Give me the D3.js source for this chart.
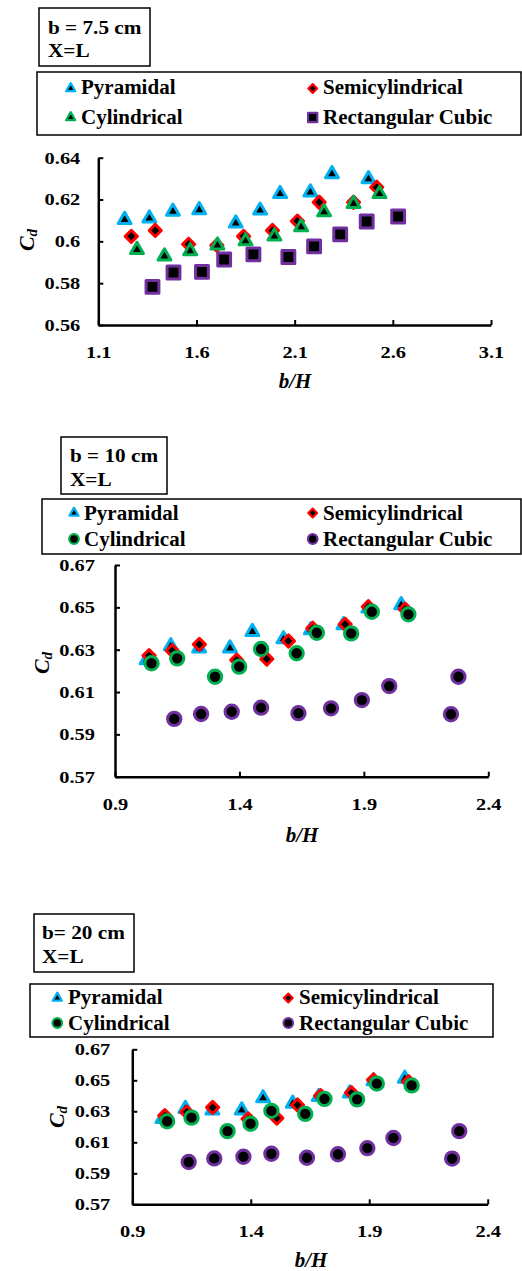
<!DOCTYPE html>
<html><head><meta charset="utf-8">
<script src="https://cdn.jsdelivr.net/npm/d3@7"></script>
<style>body{margin:0;background:#fff} svg{display:block}
svg text{font-family:"Liberation Serif","Times New Roman",Times,serif !important;font-weight:bold}</style>
</head><body><svg id="c" width="522" height="1271"></svg>
<script>
// ---------- DATA ----------
// Panel 1 : b = 7.5 cm
const p1PyrX  = [1.234,1.36,1.48,1.614,1.80,1.924,2.026,2.18,2.29,2.476];
const p1PyrY  = [0.6103,0.611,0.6143,0.615,0.6087,0.6148,0.6227,0.6235,0.6322,0.6298];
const p1SemiX = [1.268,1.39,1.56,1.704,1.84,1.987,2.114,2.225,2.40,2.518];
const p1SemiY = [0.6024,0.6052,0.5986,0.5981,0.6024,0.6052,0.6097,0.6187,0.6187,0.6259];
const p1CylX  = [1.297,1.437,1.568,1.707,1.85,1.997,2.133,2.25,2.40,2.532];
const p1CylY  = [0.596,0.5929,0.5954,0.5981,0.6001,0.6024,0.6068,0.614,0.618,0.6227];
const p1RectX = [1.376,1.483,1.628,1.741,1.89,2.068,2.199,2.332,2.467,2.627];
const p1RectY = [0.5782,0.5851,0.5854,0.5913,0.5938,0.5925,0.5976,0.6033,0.6095,0.6119];
// Panels 2 and 3 : b = 10 cm and b = 20 cm (same plotted values)
const p2PyrX  = [1.027,1.124,1.238,1.362,1.452,1.577,1.687,1.818,1.918,2.05];
const p2PyrY  = [0.6251,0.6317,0.6307,0.6307,0.6385,0.635,0.6393,0.6417,0.6495,0.6511];
const p2SemiX = [1.037,1.13,1.239,1.389,1.51,1.597,1.695,1.825,1.918,2.066];
const p2SemiY = [0.6272,0.6295,0.6325,0.6251,0.6256,0.6341,0.6401,0.642,0.6503,0.6491];
const p2CylX  = [1.047,1.15,1.302,1.399,1.487,1.63,1.711,1.849,1.932,2.079];
const p2CylY  = [0.6236,0.6259,0.6172,0.622,0.6303,0.6283,0.638,0.6377,0.6479,0.6467];
const p2RectX = [1.138,1.246,1.369,1.487,1.637,1.768,1.892,2.002,2.25,2.28];
const p2RectY = [0.5973,0.5996,0.6007,0.6026,0.6000,0.6023,0.6062,0.6128,0.5995,0.6172];

const seriesNames = ["Pyramidal","Semicylindrical","Cylindrical","Rectangular Cubic"];
const p1XTicks = [1.1,1.6,2.1,2.6,3.1];
const p1XTickLabels = ["1.1","1.6","2.1","2.6","3.1"];
const p1YTicks = [0.56,0.58,0.60,0.62,0.64];
const p1YTickLabels = ["0.56","0.58","0.6","0.62","0.64"];
const p2XTicks = [0.9,1.4,1.9,2.4];
const p2XTickLabels = ["0.9","1.4","1.9","2.4"];
const p2YTicks = [0.57,0.59,0.61,0.63,0.65,0.67];
const p2YTickLabels = ["0.57","0.59","0.61","0.63","0.65","0.67"];

// ---------- STYLE / LAYOUT ----------
const COL = ["#00B0F0","#FF0000","#00B050","#7030A0"];
const svg = d3.select("#c");

function symPath(shape, area){
  const t = shape==="triangle" ? d3.symbolTriangle : (shape==="circle" ? d3.symbolCircle : d3.symbolSquare);
  return d3.symbol().type(t).size(area)();
}
const AREA = {triangle:72, diamond:74, square:165, circle:140};
function marker(g, shape, color, s, cx, cy){
  g.append("path").attr("d", symPath(shape, AREA[shape]*s*s))
    .attr("transform", `translate(${cx},${cy})` + (shape==="diamond" ? " rotate(45)" : ""))
    .attr("fill","#000").attr("stroke",color).attr("stroke-width",3*s)
    .attr("stroke-linejoin","round");
}
function stext(g, x, y, str, size, sx, anchor){
  return g.append("text").attr("transform",`translate(${x},${y}) scale(${sx},1)`)
    .attr("text-anchor",anchor||"start")
    .attr("font-size",size).attr("fill","#000").text(str);
}

const panels = [
  { title:["b = 7.5 cm","X=L"], tbox:[39,8,150,66], tx:48, tb:[34,57],
    lbox:[37,72,521,135], mx:[70.7,312.7], lx:[81,323], my:[88.5,117.5], lb:[94,124],
    xr:[98.3,491], yr:[325,157.7], xd:[1.1,3.1], yd:[0.56,0.64],
    xt:p1XTicks, xtl:p1XTickLabels, yt:p1YTicks, ytl:p1YTickLabels, ypad:18,
    cd:[27,240], bh:[295,388],
    shapes:["triangle","diamond","triangle","square"],
    data:[[p1PyrX,p1PyrY],[p1SemiX,p1SemiY],[p1CylX,p1CylY],[p1RectX,p1RectY]] },
  { title:["b = 10 cm","X=L"], tbox:[61,437,167,494], tx:70, tb:[462,486],
    lbox:[42,499,521,554], mx:[74,312.7], lx:[84,323], my:[513,539], lb:[520,546],
    xr:[115,488.3], yr:[776.7,565], xd:[0.9,2.4], yd:[0.57,0.67],
    xt:p2XTicks, xtl:p2XTickLabels, yt:p2YTicks, ytl:p2YTickLabels, ypad:20,
    cd:[42,663], bh:[302,842],
    shapes:["triangle","diamond","circle","circle"],
    data:[[p2PyrX,p2PyrY],[p2SemiX,p2SemiY],[p2CylX,p2CylY],[p2RectX,p2RectY]] },
  { title:["b= 20 cm","X=L"], tbox:[34,914,134,972], tx:42, tb:[939,963],
    lbox:[30,984,493,1037], mx:[57.3,288.3], lx:[68,299], my:[998,1023], lb:[1004,1030],
    xr:[132.3,487.7], yr:[1204.3,1049.3], xd:[0.9,2.4], yd:[0.57,0.67],
    xt:p2XTicks, xtl:p2XTickLabels, yt:p2YTicks, ytl:p2YTickLabels, ypad:22,
    cd:[57,1117], bh:[311,1267],
    shapes:["triangle","diamond","circle","circle"],
    data:[[p2PyrX,p2PyrY],[p2SemiX,p2SemiY],[p2CylX,p2CylY],[p2RectX,p2RectY]] }
];

panels.forEach(p => {
  const g = svg.append("g");
  // title box
  g.append("rect").attr("x",p.tbox[0]).attr("y",p.tbox[1])
    .attr("width",p.tbox[2]-p.tbox[0]).attr("height",p.tbox[3]-p.tbox[1])
    .attr("fill","#fff").attr("stroke","#000").attr("stroke-width",1.5);
  p.title.forEach((t,i)=> stext(g, p.tx, p.tb[i], t, 18, 1.18));
  // legend
  g.append("rect").attr("x",p.lbox[0]).attr("y",p.lbox[1])
    .attr("width",p.lbox[2]-p.lbox[0]).attr("height",p.lbox[3]-p.lbox[1])
    .attr("fill","#fff").attr("stroke","#000").attr("stroke-width",1.5);
  seriesNames.forEach((n,i)=>{
    const col = i%2, row = Math.floor(i/2);
    marker(g, p.shapes[i], COL[i], 0.72, p.mx[col], p.my[row]);
    stext(g, p.lx[col], p.lb[row], n, 20, 1.05);
  });
  // scales
  const x = d3.scaleLinear().domain(p.xd).range(p.xr);
  const y = d3.scaleLinear().domain(p.yd).range(p.yr);
  const SX = 1.2;
  const gx = g.append("g").attr("transform",`translate(0,${p.yr[0]})`)
    .call(d3.axisBottom(x).tickValues(p.xt).tickFormat((d,i)=>p.xtl[i])
      .tickSizeInner(-5).tickSizeOuter(0).tickPadding(21));
  const gy = g.append("g").attr("transform",`translate(${p.xr[0]},0)`)
    .call(d3.axisLeft(y).tickValues(p.yt).tickFormat((d,i)=>p.ytl[i])
      .tickSizeInner(-5).tickSizeOuter(0).tickPadding(p.ypad));
  [gx,gy].forEach(a=>{
    a.attr("font-family",null);
    a.select(".domain").attr("stroke","#000").attr("stroke-width",2.5);
    a.selectAll(".tick line").attr("stroke","#000").attr("stroke-width",2);
    a.selectAll(".tick text")
      .attr("font-size",17).attr("fill","#000").attr("transform",`scale(${SX},1)`);
  });
  gy.selectAll(".tick text").attr("x", -p.ypad/SX);
  // points (series order: Pyramidal, Semi, Cyl, Rect)
  p.data.forEach((s,i)=>{
    const pts = s[0].map((v,j)=>[v, s[1][j]]);
    const sg = g.append("g");
    pts.forEach(d => marker(sg, p.shapes[i], COL[i], 1, x(d[0]), y(d[1])));
  });
  // axis titles
  const cd = g.append("text").attr("transform",`translate(${p.cd[0]+7},${p.cd[1]}) rotate(-90)`)
    .attr("text-anchor","middle").attr("font-style","italic").attr("font-size",22);
  cd.append("tspan").text("C");
  cd.append("tspan").attr("font-size",15).attr("dy",3).text("d");
  stext(g, p.bh[0], p.bh[1], "b/H", 20, 1.05, "middle").attr("font-style","italic");
});
</script></body></html>
